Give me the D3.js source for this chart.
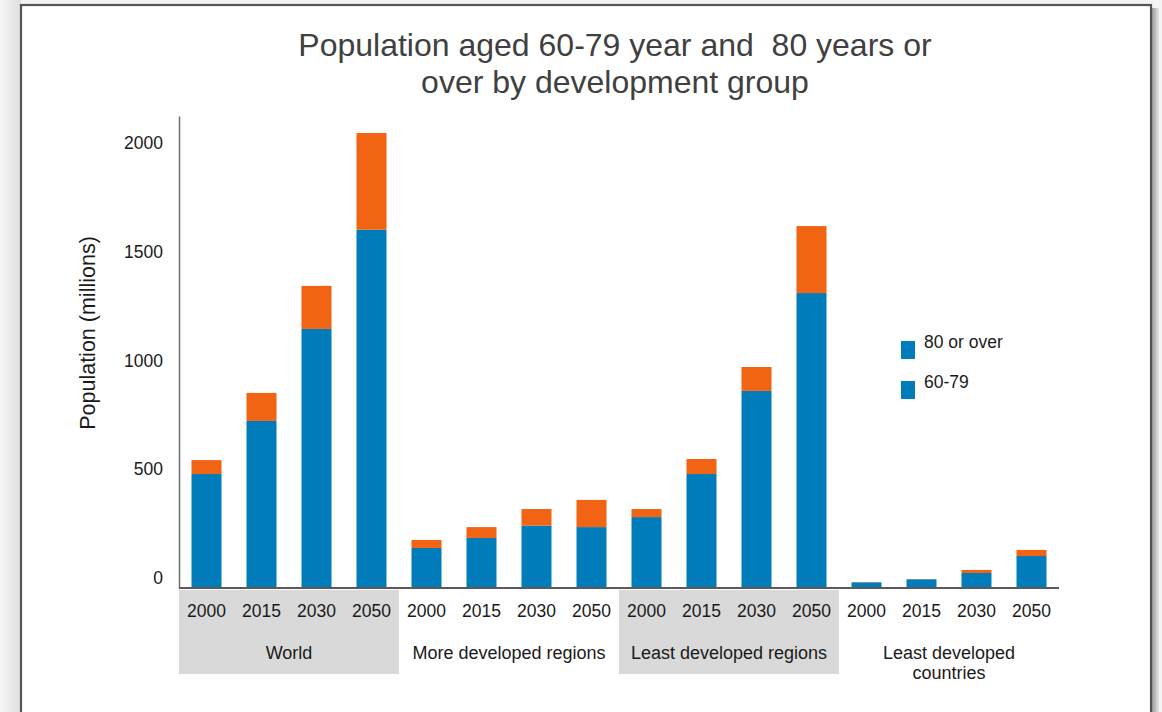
<!DOCTYPE html>
<html>
<head>
<meta charset="utf-8">
<script src="https://cdn.jsdelivr.net/npm/d3@7/dist/d3.min.js"></script>
<style>
  html, body { margin: 0; padding: 0; background: #ececec; }
  svg { display: block; font-family: "Liberation Sans", Arial, sans-serif; }
</style>
</head>
<body>
<svg id="chart" width="1162" height="712"></svg>
<script>
// Development groups and reference years
const groups = ["World", "More developed regions", "Least developed regions", "Least developed countries"];
const groupLines = [["World"], ["More developed regions"], ["Least developed regions"], ["Least developed", "countries"]];
const years = ["2000", "2015", "2030", "2050"];

// Population in millions, one entry per group/year (group-major order)
const aged60to79 = [524, 768, 1191, 1647, 184, 230, 287, 280, 326, 524, 906, 1356, 26, 40, 69, 147];
const aged80plus = [64, 129, 198, 445, 37, 50, 76, 125, 37, 69, 110, 308, 1, 1, 14, 28];

const yTicks = [0, 500, 1000, 1500, 2000];
const shadedGroups = ["World", "Least developed regions"];

const seriesKeys = ["60-79", "80 or over"];
const colors = { "60-79": "#007cba", "80 or over": "#f06414" };
const legendItems = ["80 or over", "60-79"];

const svg = d3.select("#chart");
const W = 1162, H = 712;

// Page backdrop and framed panel
const defs = svg.append("defs");
const lg = defs.append("linearGradient").attr("id", "leftBand").attr("x1", 0).attr("x2", 1);
lg.append("stop").attr("offset", 0).attr("stop-color", "#f7f7f7");
lg.append("stop").attr("offset", 1).attr("stop-color", "#dedede");
const sg = defs.append("linearGradient").attr("id", "shadow").attr("x1", 0).attr("x2", 1);
sg.append("stop").attr("offset", 0).attr("stop-color", "#9a9a9a");
sg.append("stop").attr("offset", 1).attr("stop-color", "#e8e8e8");

svg.append("rect").attr("width", W).attr("height", H).attr("fill", "#f3f3f3");
svg.append("rect").attr("x", 0).attr("y", 0).attr("width", 21).attr("height", H).attr("fill", "url(#leftBand)");
svg.append("rect").attr("x", 1152).attr("y", 8).attr("width", 7).attr("height", H).attr("fill", "url(#shadow)");
svg.append("rect").attr("x", 21).attr("y", 5).attr("width", 1130).attr("height", H + 20)
  .attr("fill", "#ffffff").attr("stroke", "#555555").attr("stroke-width", 2.2);

// Flatten rows
const rows = [];
groups.forEach((g, gi) => years.forEach((yr, yi) => {
  const i = gi * years.length + yi;
  rows.push({ key: g + "|" + yr, group: g, year: yr, "60-79": aged60to79[i], "80 or over": aged80plus[i] });
}));

// Scales
const x = d3.scaleBand()
  .domain(rows.map(d => d.key))
  .range([179, 1059])
  .paddingInner(25 / 55)
  .paddingOuter(12.5 / 55);

const y = d3.scaleLinear().domain([0, 2170]).range([588, 116]);

// Shaded group panels under the category axis
const groupX = g => {
  const ks = rows.filter(r => r.group === g).map(r => r.key);
  const x0 = x(ks[0]) - x.step() * x.paddingInner() / 2;
  const x1 = x(ks[ks.length - 1]) + x.bandwidth() + x.step() * x.paddingInner() / 2;
  return [x0, x1];
};
svg.append("g").selectAll("rect")
  .data(shadedGroups)
  .join("rect")
  .attr("x", g => groupX(g)[0])
  .attr("width", g => groupX(g)[1] - groupX(g)[0])
  .attr("y", 590)
  .attr("height", 84)
  .attr("fill", "#d9d9d9");

// Stacked bars
const stack = d3.stack().keys(seriesKeys);
const layers = stack(rows);
svg.append("g").selectAll("g")
  .data(layers)
  .join("g")
  .attr("fill", d => colors[d.key])
  .selectAll("rect")
  .data(d => d)
  .join("rect")
  .attr("x", d => x(d.data.key))
  .attr("width", x.bandwidth())
  .attr("y", d => y(d[1]))
  .attr("height", d => y(d[0]) - y(d[1]));

// Value axis
const yAxis = svg.append("g")
  .attr("transform", "translate(179,0)")
  .call(d3.axisLeft(y).tickValues(yTicks).tickSize(0).tickPadding(16).tickFormat(d3.format("d")));
yAxis.select(".domain").attr("stroke", "#6e6e6e").attr("stroke-width", 1.5);
yAxis.selectAll("text")
  .attr("font-family", "\"Liberation Sans\", Arial, sans-serif")
  .attr("font-size", 17.5).attr("fill", "#1a1a1a")
  .attr("transform", "translate(0,-10)");

// Category axis: baseline and year labels
svg.append("line")
  .attr("x1", 179).attr("x2", 1059)
  .attr("y1", y(0)).attr("y2", y(0))
  .attr("stroke", "#5a5a5a").attr("stroke-width", 2);

svg.append("g").selectAll("text")
  .data(rows)
  .join("text")
  .attr("x", d => x(d.key) + x.bandwidth() / 2)
  .attr("y", 617)
  .attr("text-anchor", "middle")
  .attr("font-size", 17.5)
  .attr("fill", "#1a1a1a")
  .text(d => d.year);

// Group labels
const gl = svg.append("g").selectAll("text")
  .data(groups)
  .join("text")
  .attr("x", g => (groupX(g)[0] + groupX(g)[1]) / 2)
  .attr("y", 659)
  .attr("text-anchor", "middle")
  .attr("font-size", 18)
  .attr("fill", "#1a1a1a");
gl.selectAll("tspan")
  .data((g, i) => groupLines[i])
  .join("tspan")
  .attr("x", function () { return d3.select(this.parentNode).attr("x"); })
  .attr("dy", (d, i) => i === 0 ? 0 : 20)
  .text(d => d);

// Axis title
svg.append("text")
  .attr("transform", "translate(95,333) rotate(-90)")
  .attr("text-anchor", "middle")
  .attr("font-size", 21.5)
  .attr("fill", "#1a1a1a")
  .text("Population (millions)");

// Chart title
const title = svg.append("text")
  .attr("text-anchor", "middle")
  .attr("font-size", 32)
  .attr("fill", "#404040");
title.append("tspan").attr("x", 615).attr("y", 56).text("Population aged 60-79 year and  80 years or").attr("xml:space", "preserve");
title.append("tspan").attr("x", 615).attr("y", 93).text("over by development group");

// Legend
const legend = svg.append("g").selectAll("g")
  .data(legendItems)
  .join("g")
  .attr("transform", (d, i) => `translate(901,${341 + i * 40})`);
legend.append("rect")
  .attr("width", 14).attr("height", 18)
  .attr("fill", colors["60-79"]);
legend.append("text")
  .attr("x", 23).attr("y", 7)
  .attr("font-size", 17.5)
  .attr("fill", "#1a1a1a")
  .text(d => d);
</script>
</body>
</html>
